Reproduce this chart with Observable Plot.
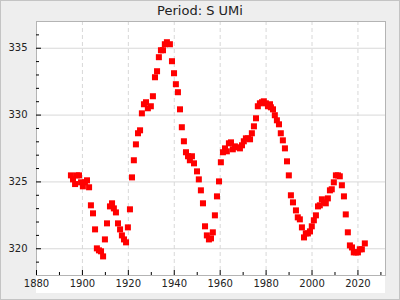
<!DOCTYPE html>
<html><head><meta charset="utf-8">
<script src="https://cdn.jsdelivr.net/npm/d3@7"></script>
<script src="https://cdn.jsdelivr.net/npm/@observablehq/plot@0.6"></script>
<style>
body{margin:0;}
#wrap{position:relative;width:400px;height:300px;background:#eeeeee;box-shadow:inset 0 0 0 1px #c4c4c4;overflow:hidden;font-family:"DejaVu Sans",sans-serif;}
#title{position:absolute;left:0;top:0;width:400px;height:20px;line-height:21px;text-align:center;font-size:13px;color:#222;}
#panel{position:absolute;left:36px;top:21px;width:349px;height:272px;background:#fff;}
#chart{position:absolute;left:0;top:20px;}
</style></head><body>
<div id="wrap"><div id="title">Period: S UMi</div><div id="panel"></div><div id="chart"></div></div>
<script>
const years = [1895.0,1895.9,1896.8,1897.6,1898.5,1899.4,1900.2,1901.1,1902.0,1902.9,1903.7,1904.6,1905.5,1906.3,1907.2,1908.1,1909.0,1909.8,1910.7,1912.0,1912.9,1913.7,1914.6,1915.5,1916.4,1917.2,1918.1,1919.0,1919.8,1920.7,1921.6,1922.4,1923.3,1924.2,1925.1,1925.9,1926.8,1927.7,1928.5,1929.8,1930.7,1931.6,1932.5,1933.3,1934.2,1935.1,1935.9,1936.8,1938.1,1939.0,1939.9,1940.7,1941.6,1942.5,1943.3,1944.2,1945.1,1946.0,1946.8,1947.7,1948.6,1949.9,1950.7,1951.6,1952.5,1953.4,1954.2,1955.1,1956.0,1956.8,1957.7,1958.6,1959.5,1960.3,1961.2,1962.1,1962.9,1963.8,1964.7,1965.5,1966.4,1967.3,1968.6,1969.5,1970.3,1971.2,1972.1,1973.0,1973.8,1974.7,1975.6,1976.4,1977.3,1978.2,1979.0,1979.9,1980.8,1981.7,1982.1,1983.0,1983.8,1984.7,1985.6,1986.4,1987.3,1988.2,1989.1,1989.9,1990.8,1991.7,1993.0,1993.8,1994.7,1995.6,1996.5,1997.3,1998.2,1999.1,1999.9,2000.8,2001.7,2002.6,2003.4,2004.3,2005.2,2006.0,2006.9,2007.8,2008.6,2009.5,2010.4,2011.3,2012.1,2013.0,2013.9,2014.7,2015.6,2016.5,2017.4,2018.2,2019.1,2020.0,2020.8,2021.7,2023.0];
const periods = [325.49,325.19,324.84,325.49,325.49,324.97,324.67,324.97,325.12,324.60,323.25,322.65,321.45,320.03,319.88,319.81,319.43,320.70,321.90,323.17,323.40,323.02,322.72,321.90,321.45,321.00,320.70,320.48,321.60,322.95,325.34,326.62,327.81,328.64,328.86,330.13,330.81,330.96,330.51,330.66,331.41,332.83,333.28,334.33,334.85,334.85,335.30,335.45,335.30,334.03,333.13,332.31,331.71,330.43,329.09,328.04,327.22,326.92,326.62,326.92,326.39,325.79,325.19,324.37,323.40,321.68,321.00,320.70,320.78,321.23,322.50,323.92,325.04,326.47,327.22,327.51,327.29,327.89,327.96,327.44,327.66,327.59,327.51,327.74,328.04,328.26,328.26,328.19,328.64,329.16,329.76,330.66,330.88,330.96,331.03,330.88,330.66,330.81,330.58,330.43,329.99,329.61,329.31,328.64,328.11,327.51,326.54,325.49,324.00,323.47,322.87,322.35,322.20,321.60,320.85,321.15,321.15,321.30,321.68,322.13,322.50,323.17,323.25,323.70,323.47,323.40,323.77,324.37,324.45,324.97,325.49,325.49,325.42,324.75,323.92,322.57,321.23,320.25,320.10,319.73,319.73,319.73,319.96,319.96,320.40];
const xMajor = [1880,1900,1920,1940,1960,1980,2000,2020];
const xMinor = [1890,1910,1930,1950,1970,1990,2010,2030];
const yMajor = [320,325,330,335];
const yMinor = [319,321,322,323,324,326,327,328,329,331,332,333,334,336];

const data = years.map((x,i)=>({year:x, period:periods[i]}));
const W=400, H=280, mT=1, mL=36, mR=15, mB=25;
const pw = W-mL-mR, ph = H-mT-mB;
const chart = Plot.plot({
  width:W, height:H, marginTop:mT, marginLeft:mL, marginRight:mR, marginBottom:mB,
  style:{background:"transparent", fontFamily:"DejaVu Sans, sans-serif", fontSize:"10px", color:"#222"},
  x:{domain:[1880,2032]},
  y:{domain:[318,337]},
  marks:[
    Plot.ruleY(yMajor, {y:d=>d, stroke:"#d8d8d8", strokeOpacity:1}),
    Plot.ruleX(xMajor, {x:d=>d, stroke:"#d8d8d8", strokeOpacity:1, strokeDasharray:"4,3"}),
    Plot.frame({stroke:"#b4b4b4"}),
    Plot.tickY(yMajor, {y:d=>d, insetRight:pw-5, stroke:"#000"}),
    Plot.tickY(yMinor, {y:d=>d, insetRight:pw-3, stroke:"#000"}),
    Plot.tickX(xMajor, {x:d=>d, insetTop:ph-5, stroke:"#000"}),
    Plot.tickX(xMinor, {x:d=>d, insetTop:ph-3, stroke:"#000"}),
    Plot.axisX(xMajor, {tickSize:0, tickPadding:4, tickFormat:d=>String(d), label:null}),
    Plot.axisY(yMajor, {tickSize:0, tickPadding:9, tickFormat:d=>String(d), label:null}),
    Plot.dot(data, {x:"year", y:"period", symbol:"square", r:3.4, fill:"#ff0000", stroke:"none"})
  ]
});
document.getElementById("chart").appendChild(chart);
</script>
</body></html>
